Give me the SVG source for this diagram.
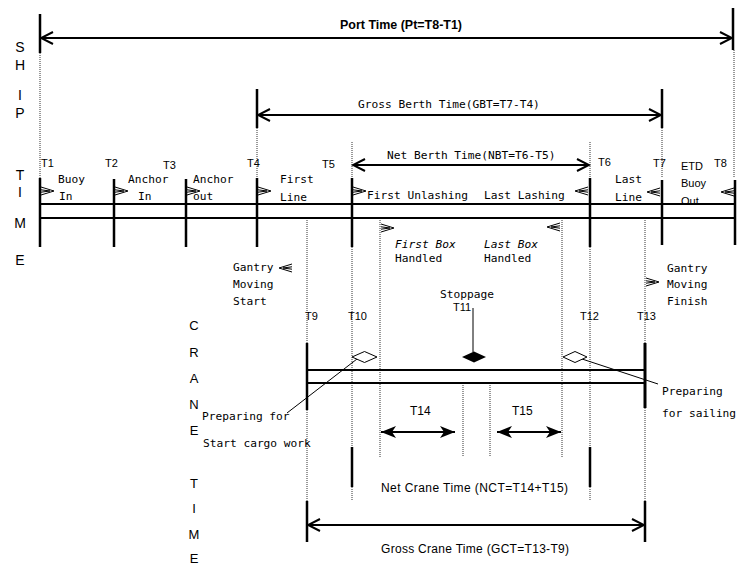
<svg xmlns="http://www.w3.org/2000/svg" width="737" height="567" viewBox="0 0 737 567">
<style>
.m{font-family:"DejaVu Sans Mono","Liberation Mono",monospace;font-size:11.2px;fill:#000}
.mi{font-family:"DejaVu Sans Mono","Liberation Mono",monospace;font-size:11.2px;font-style:italic;fill:#000}
.a{font-family:"Liberation Sans",Arial,sans-serif;font-size:11px;fill:#000}
.v{font-family:"Liberation Sans",Arial,sans-serif;font-size:14px;fill:#000;text-anchor:middle}
.vc{font-family:"Liberation Sans",Arial,sans-serif;font-size:13px;fill:#000;text-anchor:middle}
.b{font-family:"Liberation Sans",Arial,sans-serif;font-size:13px;font-weight:bold;fill:#000}
.tk{stroke:#000;stroke-width:2.5;fill:none}
.bar{stroke:#000;stroke-width:2;fill:none}
.dt{stroke:#333;stroke-width:1;stroke-dasharray:1 1;fill:none}
.ar{stroke:#000;stroke-width:1.8;fill:none}
.sa{stroke:#000;stroke-width:1;fill:none}
.ld{stroke:#000;stroke-width:1;fill:none}
</style>
<defs>
<marker id="ch" markerUnits="userSpaceOnUse" markerWidth="16" markerHeight="14" refX="14" refY="7" orient="auto-start-reverse">
<path d="M2,1 L14,7 L2,13" fill="none" stroke="#000" stroke-width="2"/>
</marker>
<marker id="fa" markerUnits="userSpaceOnUse" markerWidth="16" markerHeight="12" refX="15" refY="6" orient="auto-start-reverse">
<path d="M0,0 L15,6 L0,12 L4,6 Z" fill="#000"/>
</marker>
<path id="ra" d="M0,-4 L13,0 L0,4 M0,-1.2 L9,0 L0,1.2" class="sa"/>
<path id="la" d="M0,-4 L-13,0 L0,4 M0,-1.2 L-9,0 L0,1.2" class="sa"/>
</defs>

<rect width="737" height="567" fill="#fff"/>

<g id="axis-labels">
<text class="v" x="20" y="52">S</text>
<text class="v" x="20" y="70">H</text>
<text class="v" x="20" y="100">I</text>
<text class="v" x="20" y="118">P</text>
<text class="v" x="20" y="180">T</text>
<text class="v" x="20" y="197">I</text>
<text class="v" x="20" y="228">M</text>
<text class="v" x="20" y="265">E</text>
<text class="vc" x="194" y="330">C</text>
<text class="vc" x="194" y="357">R</text>
<text class="vc" x="194" y="383">A</text>
<text class="vc" x="194" y="409">N</text>
<text class="vc" x="194" y="435">E</text>
<text class="vc" x="194" y="488">T</text>
<text class="vc" x="194" y="513">I</text>
<text class="vc" x="194" y="539">M</text>
<text class="vc" x="194" y="563">E</text>
</g>

<g id="connectors">
<!-- dotted guide lines -->
<path class="dt" d="M40,53 V178 M257,128 V178 M662,128 V178 M734,50 V178 M352,142 V178 M590,142 V178"/>
<path class="dt" d="M307,218 V501 M645,218 V501 M352,247 V501 M590,247 V501 M380,218 V457 M562,218 V457 M463,383 V457 M490,383 V457"/>
<!-- port time -->
<path class="tk" d="M40,14 V53 M733,8 V50"/>
<line class="ar" x1="41" y1="38" x2="732" y2="38" marker-start="url(#ch)" marker-end="url(#ch)"/>
<!-- gross berth -->
<path class="tk" d="M257,89 V128 M662,89 V128"/>
<line class="ar" x1="258" y1="115" x2="661" y2="115" marker-start="url(#ch)" marker-end="url(#ch)"/>
<!-- net berth -->
<line class="ar" x1="353" y1="165" x2="589" y2="165" marker-start="url(#ch)" marker-end="url(#ch)"/>
<!-- ship bar -->
<path class="bar" d="M40,204 H735 M40,218 H735"/>
<path class="tk" d="M40,178 V247 M114,179 V247 M186,179 V247 M257,178 V247 M352,178 V247 M590,178 V247 M662,180 V245 M735,180 V245"/>
<!-- crane bar -->
<path class="bar" d="M307,370 H645 M307,383 H645"/>
<path class="tk" d="M307,343 V410"/>
<path d="M645,343 V408" stroke="#000" stroke-width="3"/>
<!-- T14 / T15 -->
<line class="ar" x1="381" y1="432" x2="455" y2="432" marker-start="url(#fa)" marker-end="url(#fa)"/>
<line class="ar" x1="497" y1="432" x2="561" y2="432" marker-start="url(#fa)" marker-end="url(#fa)"/>
<!-- net crane ticks -->
<path class="tk" d="M352,447 V487 M590,447 V487"/>
<!-- gross crane -->
<path class="tk" d="M307,501 V542 M645,501 V542"/>
<line class="ar" x1="308" y1="525" x2="644" y2="525" marker-start="url(#ch)" marker-end="url(#ch)"/>
<!-- stoppage leader -->
<line class="ld" x1="473" y1="308" x2="473" y2="352"/>
<!-- preparing leaders -->
<line class="ld" x1="357" y1="359" x2="287" y2="413"/>
<line class="ld" x1="579" y1="358" x2="658" y2="384"/>
</g>

<g id="event-arrows">
<use href="#ra" x="41" y="191"/>
<use href="#ra" x="115" y="191"/>
<use href="#ra" x="187" y="191"/>
<use href="#ra" x="258" y="191"/>
<use href="#ra" x="353" y="191"/>
<use href="#la" x="588" y="191"/>
<use href="#la" x="660" y="192"/>
<use href="#la" x="734" y="192"/>
<use href="#ra" x="381" y="228"/>
<use href="#la" x="560" y="227"/>
<use href="#la" x="292" y="268"/>
<use href="#ra" x="646" y="282"/>
</g>

<g id="diamonds">
<path d="M352,357 L364.5,351.5 L377,357 L364.5,362.5 Z" fill="#fff" stroke="#000" stroke-width="1"/>
<path d="M462,357 L474,351.5 L486,357 L474,362.5 Z" fill="#000"/>
<path d="M563,357 L575,351.5 L587,357 L575,362.5 Z" fill="#fff" stroke="#000" stroke-width="1"/>
</g>

<g id="port-time"><text class="b" x="340" y="29" textLength="122" lengthAdjust="spacingAndGlyphs">Port Time (Pt=T8-T1)</text></g>
<g id="gross-berth-time"><text class="m" x="358" y="108">Gross Berth Time(GBT=T7-T4)</text></g>
<g id="net-berth-time"><text class="m" x="387" y="159">Net Berth Time(NBT=T6-T5)</text></g>

<g id="ship-time-labels">
<text class="a" x="41" y="167">T1</text>
<text class="a" x="105" y="167">T2</text>
<text class="a" x="163" y="169">T3</text>
<text class="a" x="247" y="167">T4</text>
<text class="a" x="322" y="168">T5</text>
<text class="a" x="598" y="166">T6</text>
<text class="a" x="653" y="167">T7</text>
<text class="a" x="681" y="170">ETD</text>
<text class="a" x="714" y="167">T8</text>
</g>

<g id="ship-events">
<text class="m" x="58" y="183">Buoy</text><text class="m" x="59" y="200">In</text>
<text class="m" x="128" y="183">Anchor</text><text class="m" x="138" y="200">In</text>
<text class="m" x="193" y="183">Anchor</text><text class="m" x="193" y="200">out</text>
<text class="m" x="280" y="183">First</text><text class="m" x="280" y="201">Line</text>
<text class="m" x="367" y="199">First Unlashing</text>
<text class="m" x="484" y="199">Last Lashing</text>
<text class="m" x="615" y="183">Last</text><text class="m" x="615" y="201">Line</text>
<text class="a" x="681" y="187">Buoy</text><text class="a" x="681" y="205">Out</text>
</g>

<g id="box-handled">
<text class="mi" x="395" y="248">First Box</text><text class="m" x="395" y="262">Handled</text>
<text class="mi" x="484" y="248">Last Box</text><text class="m" x="484" y="262">Handled</text>
</g>

<g id="gantry-start">
<text class="m" x="233" y="271">Gantry</text><text class="m" x="233" y="288">Moving</text><text class="m" x="233" y="305">Start</text>
</g>
<g id="gantry-finish">
<text class="m" x="667" y="272">Gantry</text><text class="m" x="667" y="288">Moving</text><text class="m" x="667" y="305">Finish</text>
</g>

<g id="crane-time-labels">
<text class="a" x="305" y="320">T9</text>
<text class="a" x="348" y="320">T10</text>
<text class="m" x="440" y="298">Stoppage</text>
<text class="a" x="453" y="311">T11</text>
<text class="a" x="580" y="320">T12</text>
<text class="a" x="637" y="320">T13</text>
<text class="a" x="410" y="415" style="font-size:12px">T14</text>
<text class="a" x="512" y="415" style="font-size:12px">T15</text>
</g>

<g id="preparing-start">
<text class="m" x="202" y="420">Preparing for</text>
<text class="m" x="203" y="447">Start cargo work</text>
</g>
<g id="preparing-sailing">
<text class="m" x="662" y="395">Preparing</text>
<text class="m" x="662" y="417">for sailing</text>
</g>

<g id="net-crane-time"><text class="a" x="381" y="492" style="font-size:12px" textLength="187">Net Crane Time (NCT=T14+T15)</text></g>
<g id="gross-crane-time"><text class="a" x="381" y="553" style="font-size:12px" textLength="188">Gross Crane Time (GCT=T13-T9)</text></g>
</svg>
